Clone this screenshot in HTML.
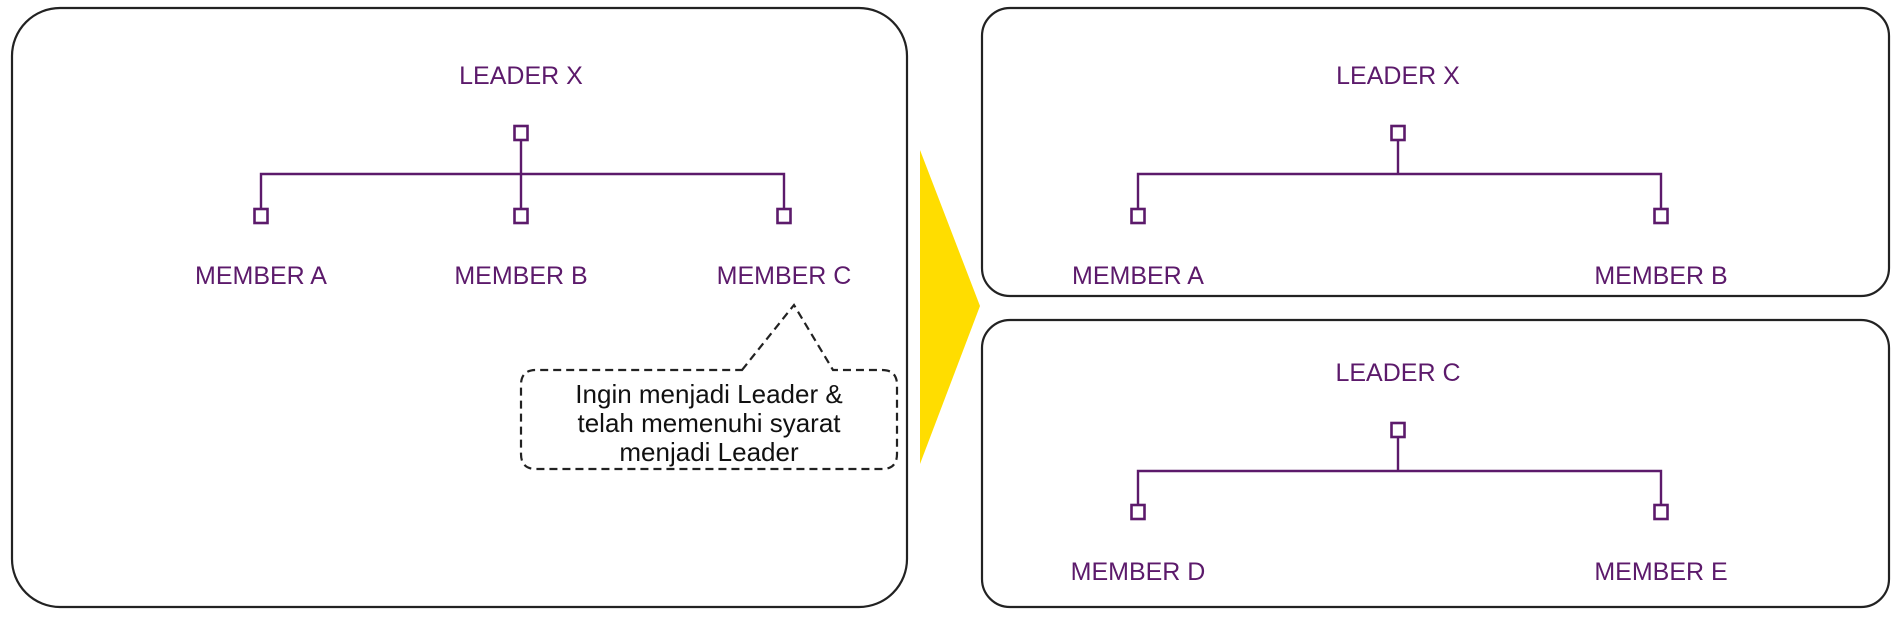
<!DOCTYPE html>
<html><head><meta charset="utf-8"><style>
html,body{margin:0;padding:0;background:#fff;}
svg{display:block;}
.p{fill:#5c1a6b;font-family:"Liberation Sans",sans-serif;font-size:25px;text-anchor:middle;}
.b{fill:#111;font-family:"Liberation Sans",sans-serif;font-size:26px;text-anchor:middle;}
.l{stroke:#5c1a6b;stroke-width:2.4;fill:none;}
.s{stroke:#5c1a6b;stroke-width:2.6;fill:#fff;}
</style></head><body>
<svg width="1900" height="618" viewBox="0 0 1900 618" xmlns="http://www.w3.org/2000/svg">
<rect x="12" y="8" width="895" height="599" rx="48" ry="48" fill="#fff" stroke="#222" stroke-width="2.2"/>
<rect x="982" y="8" width="907" height="288" rx="28" ry="28" fill="#fff" stroke="#222" stroke-width="2.2"/>
<rect x="982" y="320" width="907" height="287" rx="28" ry="28" fill="#fff" stroke="#222" stroke-width="2.2"/>
<polygon points="920,150 980,306 920,464" fill="#FFDD00"/>

<text class="p" x="521" y="84">LEADER X</text>
<path class="l" d="M521 141 V216 M261 216 V174 H784 V216"/>
<rect class="s" x="514.5" y="126" width="13" height="14"/>
<rect class="s" x="254.5" y="209" width="13" height="14"/>
<rect class="s" x="514.5" y="209" width="13" height="14"/>
<rect class="s" x="777.5" y="209" width="13" height="14"/>
<text class="p" x="261" y="284">MEMBER A</text>
<text class="p" x="521" y="284">MEMBER B</text>
<text class="p" x="784" y="284">MEMBER C</text>

<path d="M742 370 L794 305 L833 370 H882 Q897 370 897 385 V454 Q897 469 882 469 H536 Q521 469 521 454 V385 Q521 370 536 370 Z" fill="#fff" stroke="#222" stroke-width="2.2" stroke-dasharray="8,5"/>
<text class="b" x="709" y="403">Ingin menjadi Leader &amp;</text>
<text class="b" x="709" y="432">telah memenuhi syarat</text>
<text class="b" x="709" y="461">menjadi Leader</text>

<text class="p" x="1398" y="84">LEADER X</text>
<path class="l" d="M1398 141 V174 M1138 216 V174 H1661 V216"/>
<rect class="s" x="1391.5" y="126" width="13" height="14"/>
<rect class="s" x="1131.5" y="209" width="13" height="14"/>
<rect class="s" x="1654.5" y="209" width="13" height="14"/>
<text class="p" x="1138" y="284">MEMBER A</text>
<text class="p" x="1661" y="284">MEMBER B</text>

<text class="p" x="1398" y="381">LEADER C</text>
<path class="l" d="M1398 437 V471 M1138 512 V471 H1661 V512"/>
<rect class="s" x="1391.5" y="423" width="13" height="14"/>
<rect class="s" x="1131.5" y="505" width="13" height="14"/>
<rect class="s" x="1654.5" y="505" width="13" height="14"/>
<text class="p" x="1138" y="580">MEMBER D</text>
<text class="p" x="1661" y="580">MEMBER E</text>
</svg>
</body></html>
